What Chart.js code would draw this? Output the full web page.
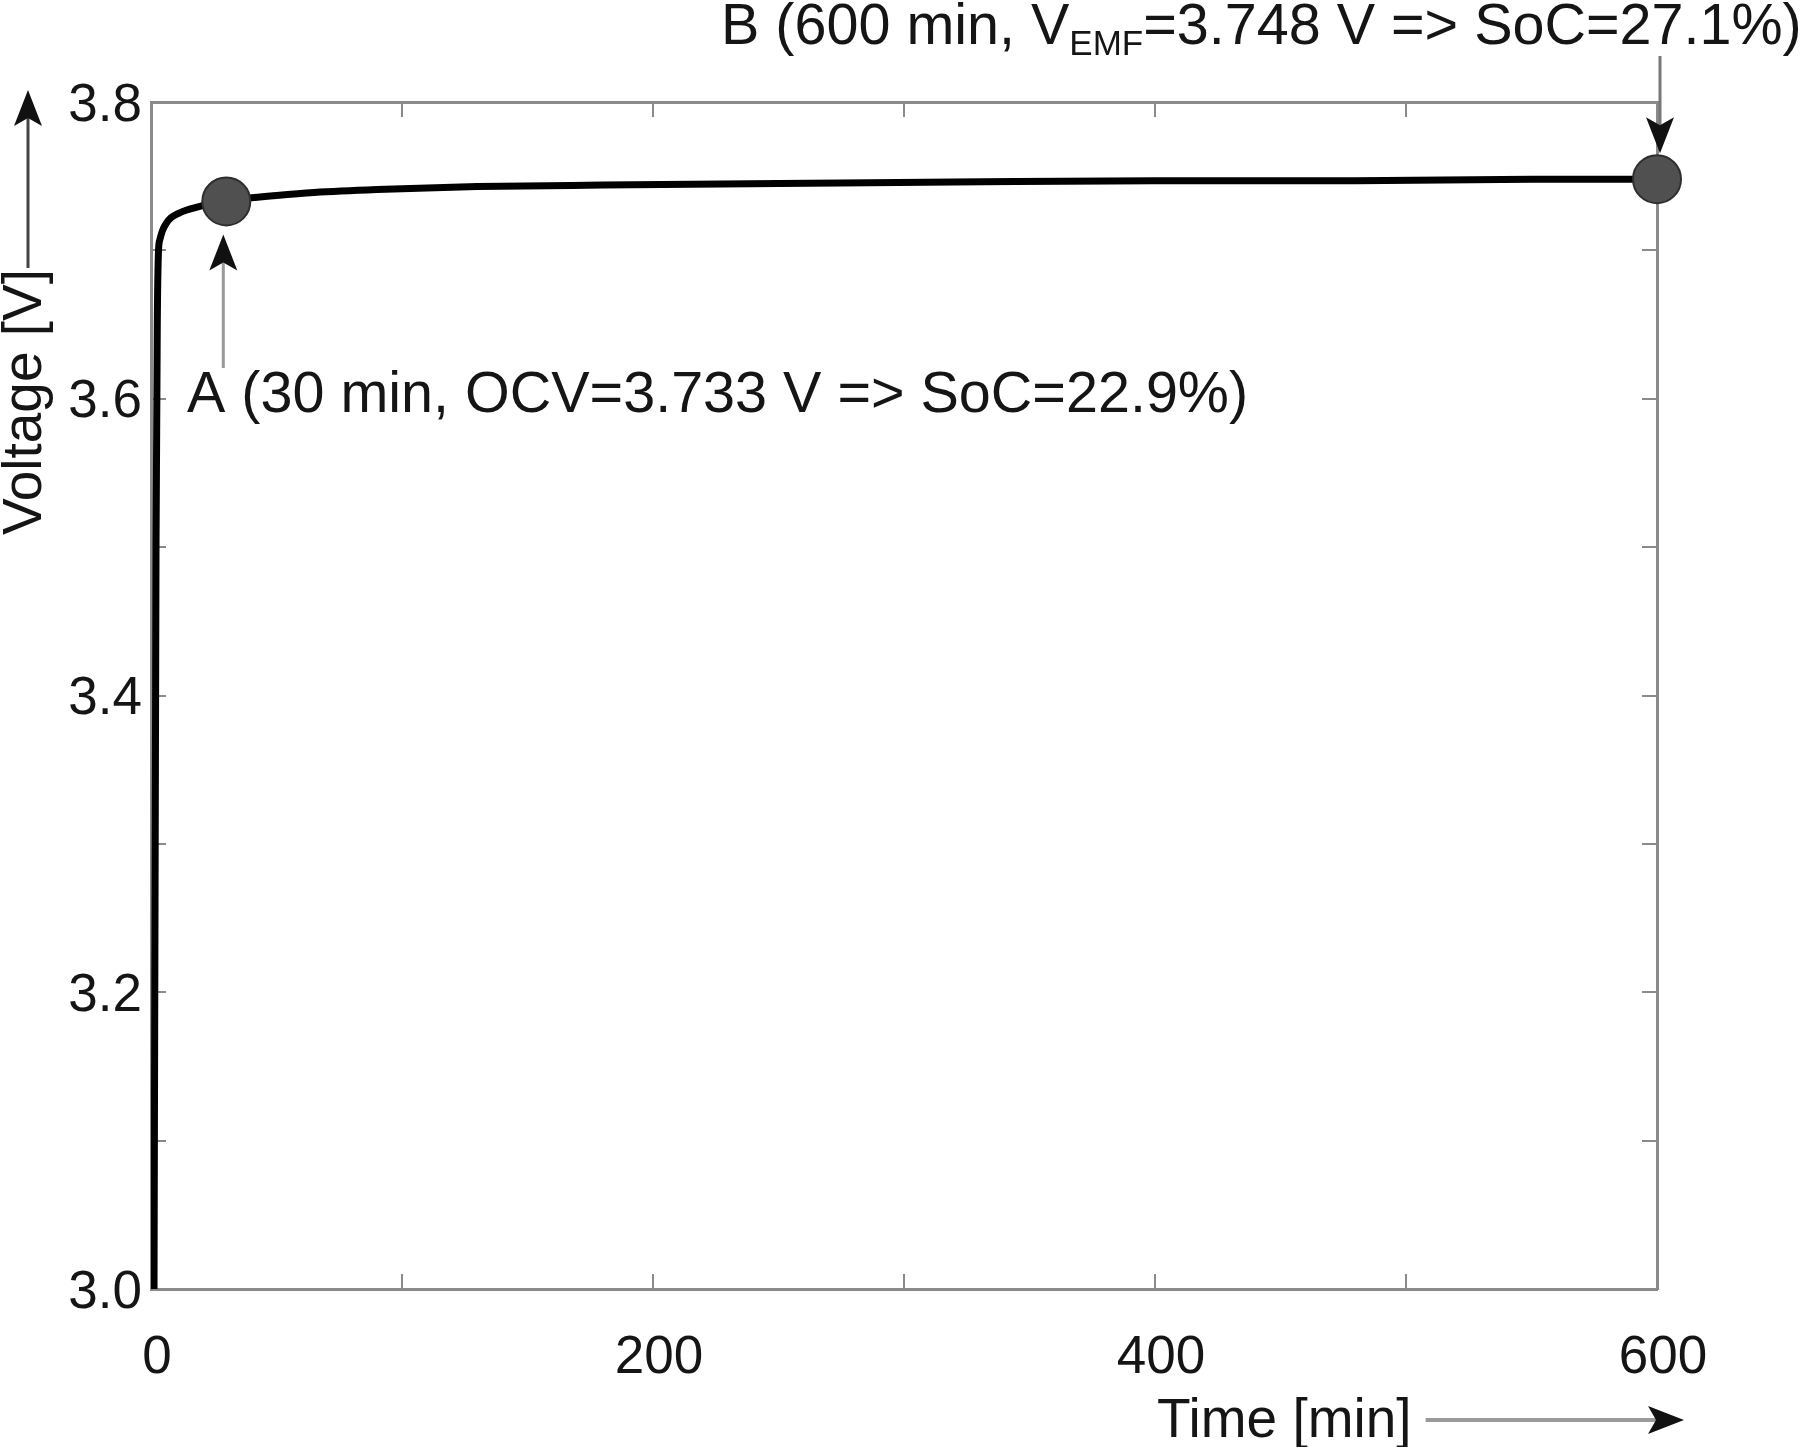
<!DOCTYPE html>
<html>
<head>
<meta charset="utf-8">
<script src="https://cdn.jsdelivr.net/npm/chart.js@4/dist/chart.umd.min.js"></script>
<style>
  html, body { margin: 0; padding: 0; background: #ffffff; }
  #wrap { width: 1800px; height: 1447px; }
</style>
</head>
<body>
<div id="wrap"><canvas id="c" width="1800" height="1447"></canvas></div>
<script>
// ---- data ----
const timeMin = [1.2, 2.0, 2.5, 3.0, 3.5, 4.5, 6, 8, 11, 14, 18, 23, 30, 38, 50, 65, 90, 130, 180, 250, 320, 400, 480, 550, 600];
const voltage = [3.0, 3.5, 3.65, 3.700, 3.707, 3.713, 3.718, 3.722, 3.725, 3.727, 3.729, 3.731, 3.733, 3.735, 3.737, 3.739, 3.741, 3.743, 3.744, 3.745, 3.746, 3.747, 3.747, 3.748, 3.748];
const markerTime = [30, 600];
const markerVoltage = [3.733, 3.748];
const xTickLabels = [0, 200, 400, 600];
const yTickLabels = [3.0, 3.2, 3.4, 3.6, 3.8];
const xTitle = 'Time [min]';
const yTitle = 'Voltage [V]';
const noteA = 'A (30 min, OCV=3.733 V => SoC=22.9%)';
const noteB = ['B (600 min, V', 'EMF', '=3.748 V => SoC=27.1%)'];

const FONT = "'Liberation Sans', Arial, Helvetica, sans-serif";
const TXT = '#151515';
const AXC = '#8a8a8a';

function arrow(ctx, x1, y1, x2, y2, shaftColor, shaftW) {
  const ang = Math.atan2(y2 - y1, x2 - x1);
  const hl = 36, hw = 14, notch = 8;
  const bx = x2 - hl * Math.cos(ang), by = y2 - hl * Math.sin(ang);
  ctx.save();
  ctx.strokeStyle = shaftColor; ctx.lineWidth = shaftW; ctx.lineCap = 'butt';
  ctx.beginPath(); ctx.moveTo(x1, y1);
  ctx.lineTo(bx + notch * Math.cos(ang), by + notch * Math.sin(ang)); ctx.stroke();
  ctx.fillStyle = '#111';
  const px = -Math.sin(ang), py = Math.cos(ang);
  ctx.beginPath();
  ctx.moveTo(x2, y2);
  ctx.lineTo(bx + hw * px, by + hw * py);
  ctx.lineTo(bx + notch * Math.cos(ang), by + notch * Math.sin(ang));
  ctx.lineTo(bx - hw * px, by - hw * py);
  ctx.closePath(); ctx.fill();
  ctx.restore();
}

const decor = {
  id: 'decor',
  afterDraw(chart) {
    const ctx = chart.ctx;
    const xs = chart.scales.x, ys = chart.scales.y;
    ctx.save();
    ctx.fillStyle = TXT;
    // annotation A
    const ax = xs.getPixelForValue(markerTime[0]);
    const ay = ys.getPixelForValue(markerVoltage[0]);
    ctx.font = '57.5px ' + FONT;
    ctx.textAlign = 'left'; ctx.textBaseline = 'alphabetic';
    ctx.fillText(noteA, 187, 412);
    arrow(ctx, ax - 3, 368, ax - 3, ay + 33, '#9a9a9a', 3);
    // annotation B
    const bx = xs.getPixelForValue(markerTime[1]);
    const by = ys.getPixelForValue(markerVoltage[1]);
    let x = 721;
    ctx.font = '57.5px ' + FONT;
    ctx.fillText(noteB[0], x, 44); x += ctx.measureText(noteB[0]).width;
    ctx.font = '35px ' + FONT;
    ctx.fillText(noteB[1], x, 55); x += ctx.measureText(noteB[1]).width;
    ctx.font = '57.5px ' + FONT;
    ctx.fillText(noteB[2], x, 44);
    arrow(ctx, bx + 3, 56, bx + 3, by - 26, '#777', 3);
    // axis titles
    ctx.font = '55px ' + FONT;
    ctx.textAlign = 'left';
    ctx.fillText(xTitle, 1157, 1437);
    const tw = ctx.measureText(xTitle).width;
    arrow(ctx, 1157 + tw + 14, 1420, 1684, 1420, '#9a9a9a', 4);
    ctx.save();
    ctx.translate(41, 402);
    ctx.rotate(-Math.PI / 2);
    ctx.textAlign = 'center';
    ctx.fillText(yTitle, 0, 0);
    ctx.restore();
    arrow(ctx, 28, 268, 28, 90, '#444', 3);
    ctx.restore();
  }
};

const gridOpts = { display: true, drawOnChartArea: false, drawTicks: true, tickLength: -15, color: AXC, lineWidth: 2 };
const borderOpts = { display: true, color: AXC, width: 3 };

new Chart(document.getElementById('c'), {
  type: 'line',
  data: {
    datasets: [
      {
        label: 'markers',
        data: markerTime.map((t, i) => ({ x: t, y: markerVoltage[i] })),
        showLine: false,
        pointRadius: 24,
        pointBackgroundColor: '#505050',
        pointBorderColor: '#2e2e2e',
        pointBorderWidth: 2,
        clip: false,
        order: 0
      },
      {
        label: 'voltage',
        data: timeMin.map((t, i) => ({ x: t, y: voltage[i] })),
        borderColor: '#000000',
        borderWidth: 7,
        pointRadius: 0,
        cubicInterpolationMode: 'monotone',
        fill: false,
        order: 1
      }
    ]
  },
  options: {
    responsive: false,
    animation: false,
    devicePixelRatio: 1,
    layout: { padding: 0 },
    plugins: { legend: { display: false }, tooltip: { enabled: false }, title: { display: false } },
    scales: {
      x: {
        type: 'linear', position: 'bottom', min: 0, max: 600,
        afterFit: s => { s.height = 158; },
        ticks: {
          stepSize: 100, autoSkip: false, maxRotation: 0, padding: 53, labelOffset: 6,
          color: TXT, font: { family: FONT, size: 53 },
          callback: v => xTickLabels.includes(v) ? String(v) : ''
        },
        grid: gridOpts, border: borderOpts
      },
      x2: {
        type: 'linear', position: 'top', min: 0, max: 600,
        afterFit: s => { s.height = 102; },
        ticks: { display: false, stepSize: 100 },
        grid: gridOpts, border: borderOpts
      },
      y: {
        type: 'linear', position: 'left', min: 3.0, max: 3.8,
        afterFit: s => { s.width = 151; },
        ticks: {
          stepSize: 0.1, autoSkip: false, padding: 24, labelOffset: 4,
          color: TXT, font: { family: FONT, size: 53 },
          callback: v => yTickLabels.some(t => Math.abs(t - v) < 1e-6) ? v.toFixed(1) : ''
        },
        grid: gridOpts, border: borderOpts
      },
      y2: {
        type: 'linear', position: 'right', min: 3.0, max: 3.8,
        afterFit: s => { s.width = 143; },
        ticks: { display: false, stepSize: 0.1 },
        grid: gridOpts, border: borderOpts
      }
    }
  },
  plugins: [decor]
});
</script>
</body>
</html>
